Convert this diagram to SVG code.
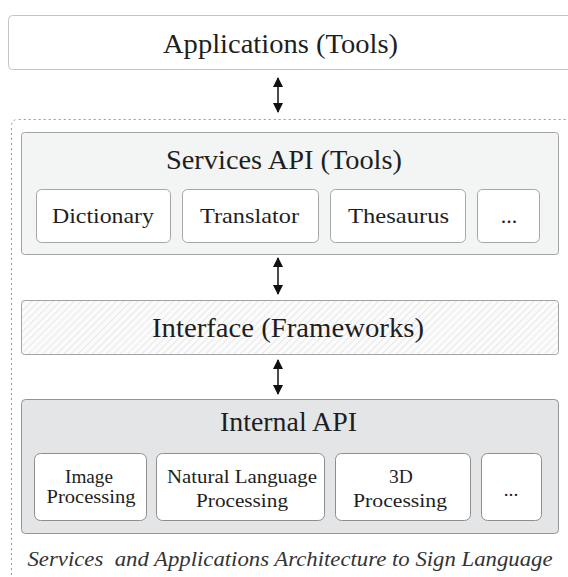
<svg xmlns="http://www.w3.org/2000/svg" width="568" height="577" viewBox="0 0 568 577">
  <style>
    .t { font-family: "Liberation Serif", "DejaVu Serif", serif; fill: #1e1e1e; text-anchor: middle; }
    .big { font-size: 28px; }
    .mid { font-size: 22px; }
    .small { font-size: 19.5px; }
    .sub { fill: #fff; stroke: #a6a6a6; stroke-width: 1; }
    .sub2 { fill: #fff; stroke: #8e8e8e; stroke-width: 1; }
    .arrow { stroke: #111; stroke-width: 1.5; fill: none; marker-start: url(#head); marker-end: url(#head); }
    .cap { font-family: "Liberation Serif", "DejaVu Serif", serif; font-style: italic; font-size: 20px; fill: #333; text-anchor: middle; white-space: pre; }
  </style>
  <defs>
    <marker id="head" viewBox="0 0 10 10" refX="9" refY="5" markerWidth="10" markerHeight="10" markerUnits="userSpaceOnUse" orient="auto-start-reverse">
      <path d="M0,0 L10,5 L0,10 Z" fill="#111"/>
    </marker>
    <pattern id="hatch" width="5" height="5" patternUnits="userSpaceOnUse" patternTransform="rotate(45)">
      <rect width="5" height="5" fill="#fbfbfb"/>
      <line x1="0" y1="0" x2="0" y2="5" stroke="#d6d6d6" stroke-width="1"/>
    </pattern>
  </defs>

  <rect width="568" height="577" fill="#fff"/>

  <g id="applications">
    <rect x="8.5" y="15.5" width="565" height="54" rx="4" fill="#fff" stroke="#c4c4c4"/>
    <text class="t big" x="280.5" y="53" textLength="235" lengthAdjust="spacingAndGlyphs">Applications (Tools)</text>
  </g>

  <g id="platform">
    <path d="M11.5,580 V126 Q11.5,119.5 18,119.5 H575" fill="none" stroke="#9a9a9a" stroke-width="1" stroke-dasharray="2,3"/>
  </g>

  <g id="services-api">
    <rect x="21.5" y="132.5" width="537" height="122" rx="3" fill="#f3f4f4" stroke="#a3a3a3"/>
    <text class="t big" x="284" y="169" textLength="236" lengthAdjust="spacingAndGlyphs">Services API (Tools)</text>
    <g id="dictionary">
      <rect class="sub" x="36.5" y="189.5" width="134" height="53" rx="5"/>
      <text class="t mid" x="103" y="223" textLength="102" lengthAdjust="spacingAndGlyphs">Dictionary</text>
    </g>
    <g id="translator">
      <rect class="sub" x="182.5" y="189.5" width="136" height="53" rx="5"/>
      <text class="t mid" x="249.5" y="223" textLength="99" lengthAdjust="spacingAndGlyphs">Translator</text>
    </g>
    <g id="thesaurus">
      <rect class="sub" x="330.5" y="189.5" width="135" height="53" rx="5"/>
      <text class="t mid" x="398.5" y="223" textLength="101" lengthAdjust="spacingAndGlyphs">Thesaurus</text>
    </g>
    <g id="services-more">
      <rect class="sub" x="477.5" y="189.5" width="62" height="53" rx="5"/>
      <text class="t mid" x="509" y="223">...</text>
    </g>
  </g>

  <g id="interface">
    <rect x="21.5" y="300.5" width="537" height="54" rx="3" fill="url(#hatch)" stroke="#a3a3a3"/>
    <text class="t big" x="288" y="337" textLength="272" lengthAdjust="spacingAndGlyphs">Interface (Frameworks)</text>
  </g>

  <g id="internal-api">
    <rect x="21.5" y="399.5" width="537" height="134" rx="4" fill="#e4e5e6" stroke="#949494"/>
    <text class="t big" x="288.5" y="431" textLength="137" lengthAdjust="spacingAndGlyphs">Internal API</text>
    <g id="image-processing">
      <rect class="sub2" x="34.5" y="453.5" width="112" height="67" rx="6"/>
      <text class="t small" x="89" y="483" textLength="48" lengthAdjust="spacingAndGlyphs">Image</text>
      <text class="t small" x="91" y="503" textLength="89" lengthAdjust="spacingAndGlyphs">Processing</text>
    </g>
    <g id="nlp">
      <rect class="sub2" x="156.5" y="453.5" width="168" height="67" rx="6"/>
      <text class="t small" x="242" y="483" textLength="150" lengthAdjust="spacingAndGlyphs">Natural Language</text>
      <text class="t small" x="242" y="507" textLength="92" lengthAdjust="spacingAndGlyphs">Processing</text>
    </g>
    <g id="processing-3d">
      <rect class="sub2" x="335.5" y="453.5" width="135" height="67" rx="6"/>
      <text class="t small" x="401" y="483">3D</text>
      <text class="t small" x="400" y="507" textLength="94" lengthAdjust="spacingAndGlyphs">Processing</text>
    </g>
    <g id="internal-more">
      <rect class="sub2" x="481.5" y="453.5" width="60" height="67" rx="6"/>
      <text class="t small" x="511" y="496">...</text>
    </g>
  </g>

  <g id="connectors">
    <line class="arrow" x1="278" y1="78" x2="278" y2="112"/>
    <line class="arrow" x1="278" y1="258" x2="278" y2="294"/>
    <line class="arrow" x1="278" y1="360" x2="278" y2="394"/>
  </g>

  <text class="cap" x="290" y="566" textLength="525" lengthAdjust="spacingAndGlyphs">Services  and Applications Architecture to Sign Language</text>
</svg>
